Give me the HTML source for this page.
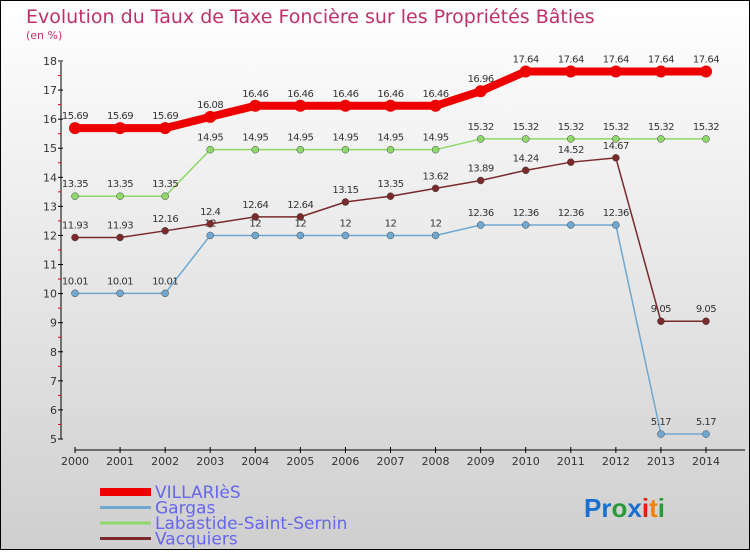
<!DOCTYPE html>
<html><head><meta charset="utf-8"><style>
body{margin:0}
#c{width:750px;height:550px;position:relative;font-family:"DejaVu Sans","Liberation Sans",sans-serif}
</style></head><body>
<div id="c">
<svg id="s" width="750" height="550" xmlns="http://www.w3.org/2000/svg">
<defs><linearGradient id="bg" x1="0" y1="0" x2="0" y2="1"><stop offset="0" stop-color="#ffffff"/><stop offset="1" stop-color="#cfcfcf"/></linearGradient></defs>
<rect x="0.5" y="0.5" width="749" height="549" fill="url(#bg)" stroke="#000"/>
<text x="26" y="23" font-size="19" fill="#c0306a">Evolution du Taux de Taxe Foncière sur les Propriétés Bâties</text>
<text x="26" y="39" font-size="11" fill="#c0306a">(en %)</text>
<g id="axes"></g><g id="series"></g><g id="legend"></g>
<text x="584" y="517" font-size="26" font-weight="bold" font-family="Liberation Sans,sans-serif"><tspan fill="#1a6fd0">Pr</tspan><tspan fill="#2a9a3a">o</tspan><tspan fill="#1a6fd0">x</tspan><tspan fill="#e02010">i</tspan><tspan fill="#f08010">t</tspan><tspan fill="#2a9a3a">i</tspan></text>
</svg></div>
<script>
const years=[2000,2001,2002,2003,2004,2005,2006,2007,2008,2009,2010,2011,2012,2013,2014];
const yTicks=[5,6,7,8,9,10,11,12,13,14,15,16,17,18];
const villaries=[15.69,15.69,15.69,16.08,16.46,16.46,16.46,16.46,16.46,16.96,17.64,17.64,17.64,17.64,17.64];
const gargas=[10.01,10.01,10.01,12,12,12,12,12,12,12.36,12.36,12.36,12.36,5.17,5.17];
const labastide=[13.35,13.35,13.35,14.95,14.95,14.95,14.95,14.95,14.95,15.32,15.32,15.32,15.32,15.32,15.32];
const vacquiers=[11.93,11.93,12.16,12.4,12.64,12.64,13.15,13.35,13.62,13.89,14.24,14.52,14.67,9.05,9.05];
const seriesNames=["VILLARIèS","Gargas","Labastide-Saint-Sernin","Vacquiers"];
const NS="http://www.w3.org/2000/svg";
const X=i=>75+i*(706-75)/14, Y=v=>439-(v-5)*(439-61)/13;
function mk(p,t,a){const e=document.createElementNS(NS,t);for(const k in a)e.setAttribute(k,a[k]);p.appendChild(e);return e;}
const ax=document.getElementById('axes');
let e=mk(ax,'line',{x1:61,y1:62,x2:61,y2:439,stroke:'#000'});

e=mk(ax,'line',{x1:75,y1:450,x2:745,y2:450,stroke:'#000'});

yTicks.forEach(v=>{mk(ax,'line',{x1:58,x2:63,y1:Y(v),y2:Y(v),stroke:'#000'});
 if(v<18)mk(ax,'line',{x1:58,x2:61,y1:Y(v+0.5),y2:Y(v+0.5),stroke:'#e00'});
 const t=mk(ax,'text',{x:57,y:Y(v)+4,'font-size':11,'text-anchor':'end',fill:'#333'});t.textContent=v;
 });
years.forEach((y,i)=>{mk(ax,'line',{x1:X(i),x2:X(i),y1:447,y2:453,stroke:'#000'});
 const t=mk(ax,'text',{x:X(i),y:465,'font-size':11,'text-anchor':'middle',fill:'#333'});t.textContent=y;
 });
const sg=document.getElementById('series');
const defs=[[villaries,'#ee0000',8,6,'villaries'],[gargas,'#6fa8d0',1.5,3.5,'gargas'],[labastide,'#8fd86a',1.5,3.5,'labastide'],[vacquiers,'#7a2a2a',1.5,3.5,'vacquiers']];
defs.forEach(([d,c,w,r,n])=>{
 const pl=mk(sg,'polyline',{points:d.map((v,i)=>X(i)+','+Y(v)).join(' '),fill:'none',stroke:c,'stroke-width':w,'stroke-linejoin':'round'});
 
 d.forEach((v,i)=>{const p=mk(sg,'circle',{cx:X(i),cy:Y(v),r:r,fill:c,stroke:n=='villaries'?'none':'#444','stroke-width':0.5});
  
  const t=mk(sg,'text',{x:X(i),y:Y(v)-9,'font-size':10,'text-anchor':'middle',fill:'#333','letter-spacing':'-0.5'});t.textContent=v;
  });
});
const lg=document.getElementById('legend');
defs.forEach(([d,c,w,r,n],k)=>{const y=492+k*15.5;
 const l=mk(lg,'line',{x1:100,x2:151,y1:y,y2:y,stroke:c,'stroke-width':n=='villaries'?8:3});
 
 const t=mk(lg,'text',{x:155,y:y+6,'font-size':17,fill:'#6666ee'});t.textContent=seriesNames[k];
 });
</script>
</body></html>
